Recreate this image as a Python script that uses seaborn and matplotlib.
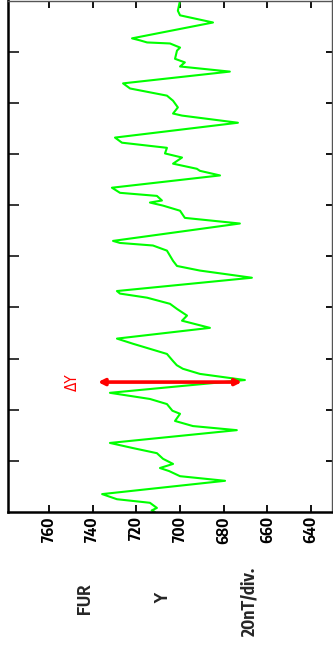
import matplotlib
matplotlib.use("Agg")
import matplotlib.pyplot as plt
from matplotlib import font_manager
import seaborn as sns

# Geomagnetic Y component, FUR station (time in divisions, value in nT)
times = [0.00, 0.03, 0.08, 0.18, 0.25, 0.35, 0.61, 0.70, 0.80, 0.86, 0.94,
         1.04, 1.15, 1.25, 1.35, 1.60, 1.68, 1.78, 1.92, 1.98, 2.11, 2.21,
         2.33, 2.58, 2.70, 2.80, 2.87, 2.95, 3.09, 3.29, 3.39, 3.60, 3.74,
         3.84, 3.97, 4.07, 4.19, 4.27, 4.32, 4.58, 4.72, 4.81, 4.91, 5.11,
         5.21, 5.26, 5.30, 5.64, 5.75, 5.89, 5.99, 6.05, 6.09, 6.18, 6.24,
         6.34, 6.58, 6.67, 6.71, 6.81, 6.93, 7.01, 7.12, 7.22, 7.32, 7.61,
         7.75, 7.79, 7.91, 8.04, 8.14, 8.28, 8.38, 8.61, 8.71, 8.79, 8.86,
         9.02, 9.08, 9.16, 9.18, 9.22, 9.26, 9.57, 9.71, 9.80, 10.00]
y_nt = [711.5, 713.0, 710.6, 713.8, 728.9, 735.7, 679.4, 700.0, 705.0, 709.2, 703.2,
        707.8, 710.6, 721.6, 732.1, 674.0, 694.1, 702.3, 700.0, 703.5, 706.0, 713.8,
        732.1, 670.3, 690.9, 698.7, 701.5, 703.2, 706.0, 721.6, 728.9, 686.3, 699.1,
        696.8, 701.4, 704.6, 715.1, 727.5, 728.9, 667.1, 690.9, 701.4, 703.2, 706.0,
        712.4, 727.5, 730.7, 672.6, 697.8, 700.0, 707.8, 713.8, 708.3, 710.6, 727.5,
        731.2, 681.7, 690.9, 692.3, 703.2, 699.1, 706.9, 706.0, 726.6, 729.8, 673.5,
        699.1, 703.2, 701.0, 703.2, 706.0, 722.9, 726.1, 677.2, 700.0, 697.8, 702.3,
        701.4, 700.0, 704.6, 715.1, 718.3, 722.0, 684.9, 700.0, 701.0, 700.0]

# amplitude marker
delta_time = 2.54
delta_range = [737.6, 671.7]
delta_label = "ΔY"

x_ticks = [760, 740, 720, 700, 680, 660, 640]
y_ticks = [1, 2, 3, 4, 5, 6, 7, 8, 9]
station = "FUR"
component = "Y"
scale_text = "20nT/div."

sns.set_style("white")

available = {f.name for f in font_manager.fontManager.ttflist}
if "Encode Sans Condensed" in available:
    label_font = "Encode Sans Condensed"
else:
    label_font = "DejaVu Sans"
plt.rcParams["font.family"] = [label_font, "DejaVu Sans"]
lab = dict(family=[label_font, "DejaVu Sans"], fontweight="bold",
           fontstretch="condensed", fontsize=11.5)
big = dict(lab, fontsize=12.5)

fig = plt.figure(figsize=(3.33, 6.49), dpi=100)
fig.patch.set_facecolor("white")
W, H = 333, 649
ax = fig.add_axes([8 / W, (H - 512) / H, (332 - 8) / W, 511.5 / H])

sns.lineplot(x=y_nt, y=times, sort=False, estimator=None, color="#00ff00",
             linewidth=1.5, ax=ax)

ax.annotate("", xy=(delta_range[0], delta_time), xytext=(delta_range[1], delta_time),
            arrowprops=dict(arrowstyle="<|-|>", color="#ff0000", lw=2.6,
                            mutation_scale=9, shrinkA=0, shrinkB=0))
ax.text(749.5, delta_time, delta_label, color="#ff0000", rotation=90,
        ha="center", va="center", fontsize=11,
        family=["DejaVu Sans"], fontstretch="condensed")

ax.set_xlim(778.8, 630.4)
ax.set_ylim(0, 10)
ax.set_xticks(x_ticks)
ax.set_xticklabels([str(v) for v in x_ticks], rotation=90, **lab)
ax.set_yticks(y_ticks)
ax.set_yticklabels([])
ax.tick_params(axis="x", direction="in", length=5, width=1.3, top=True,
               bottom=True, pad=3, colors="black")
ax.tick_params(axis="y", which="major", direction="in", left=True, right=False,
               length=8, width=1.3)
# short ticks on the right edge
for yt in y_ticks:
    ax.plot([630.4, 630.4 + 2.75], [yt, yt], color="black", lw=1.3,
            solid_capstyle="butt")

for side in ["left", "bottom"]:
    ax.spines[side].set_linewidth(1.8)
    ax.spines[side].set_color("black")
for side in ["top", "right"]:
    ax.spines[side].set_linewidth(1.0)
    ax.spines[side].set_color("#555555")
ax.set_xlabel("")
ax.set_ylabel("")

fig.text(85 / W, 1 - 599 / H, station, rotation=90, ha="center", va="center", **big)
fig.text(163 / W, 1 - 598 / H, component, rotation=90, ha="center", va="center", **big)
fig.text(249 / W, 1 - 601 / H, scale_text, rotation=90, ha="center", va="center", **big)

fig.savefig("out.png", dpi=100, facecolor="white")
